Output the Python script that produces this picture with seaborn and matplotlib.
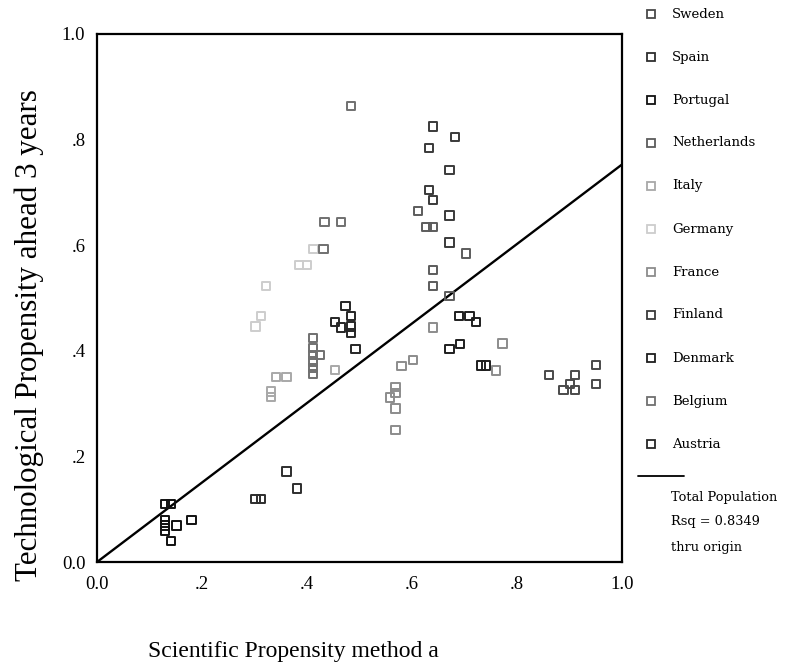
import numpy as np
import pandas as pd
import matplotlib
matplotlib.use("Agg")
import matplotlib.pyplot as plt
from matplotlib.lines import Line2D
import seaborn as sns

# Country groups: scientific propensity (x) and technological propensity 3 years ahead (y)
countries = ["Sweden", "Spain", "Portugal", "Netherlands", "Italy", "Germany",
             "France", "Finland", "Denmark", "Belgium", "Austria"]

sweden_x = [0.862, 0.911, 0.951, 0.951, 0.901, 0.889, 0.911]
sweden_y = [0.354, 0.354, 0.373, 0.337, 0.337, 0.326, 0.326]

spain_x = [0.303, 0.313, 0.362, 0.382]
spain_y = [0.120, 0.120, 0.172, 0.140]

portugal_x = [0.131, 0.142, 0.131, 0.131, 0.131, 0.152, 0.181, 0.142]
portugal_y = [0.111, 0.111, 0.080, 0.070, 0.060, 0.070, 0.080, 0.041]

netherlands_x = [0.612, 0.628, 0.641, 0.704, 0.641, 0.641, 0.672]
netherlands_y = [0.664, 0.634, 0.634, 0.584, 0.553, 0.523, 0.504]

italy_x = [0.342, 0.362, 0.332, 0.332, 0.454]
italy_y = [0.351, 0.351, 0.323, 0.313, 0.364]

germany_x = [0.303, 0.313, 0.323, 0.385, 0.401, 0.413]
germany_y = [0.446, 0.466, 0.523, 0.562, 0.562, 0.593]

france_x = [0.602, 0.581, 0.569, 0.569, 0.559, 0.569, 0.569, 0.641, 0.761, 0.773]
france_y = [0.383, 0.371, 0.332, 0.320, 0.312, 0.291, 0.250, 0.444, 0.363, 0.414]

finland_x = [0.641, 0.682, 0.633, 0.672, 0.633, 0.641, 0.672, 0.672]
finland_y = [0.824, 0.804, 0.784, 0.742, 0.704, 0.685, 0.656, 0.605]

denmark_x = [0.690, 0.710, 0.722, 0.672, 0.692, 0.732, 0.742]
denmark_y = [0.466, 0.466, 0.455, 0.404, 0.413, 0.372, 0.372]

belgium_x = [0.412, 0.412, 0.412, 0.426, 0.412, 0.412, 0.412, 0.434, 0.465, 0.432, 0.485]
belgium_y = [0.424, 0.405, 0.392, 0.392, 0.380, 0.368, 0.356, 0.644, 0.644, 0.593, 0.863]

austria_x = [0.474, 0.485, 0.454, 0.465, 0.485, 0.485, 0.493]
austria_y = [0.485, 0.466, 0.455, 0.444, 0.446, 0.434, 0.404]

xs = [sweden_x, spain_x, portugal_x, netherlands_x, italy_x, germany_x,
      france_x, finland_x, denmark_x, belgium_x, austria_x]
ys = [sweden_y, spain_y, portugal_y, netherlands_y, italy_y, germany_y,
      france_y, finland_y, denmark_y, belgium_y, austria_y]

# Fitted line through the origin (Total Population)
fit_slope = 0.752
rsq_text = "Rsq = 0.8349"

shades = {
    "Sweden": "#4a4a4a", "Spain": "#2e2e2e", "Portugal": "#111111",
    "Netherlands": "#5c5c5c", "Italy": "#a8a8a8", "Germany": "#cdcdcd",
    "France": "#8c8c8c", "Finland": "#3a3a3a", "Denmark": "#1e1e1e",
    "Belgium": "#707070", "Austria": "#262626",
}

df = pd.concat(
    [pd.DataFrame({"sci": x, "tech": y, "country": c})
     for c, x, y in zip(countries, xs, ys)],
    ignore_index=True,
)

sns.set_theme(style="white")
plt.rcParams["font.family"] = ["Liberation Serif", "DejaVu Serif"]

fig = plt.figure(figsize=(7.91, 6.64), dpi=100)
ax = fig.add_axes([0.122, 0.153, 0.664, 0.7965])

sns.scatterplot(data=df, x="sci", y="tech", hue="country", hue_order=countries,
                palette=shades, marker="s", s=36, linewidth=1.4,
                legend=False, ax=ax, zorder=3)
# open squares: move the hue colour to the outline
for coll in ax.collections:
    fc = coll.get_facecolors()
    coll.set_edgecolors(fc)
    coll.set_facecolors("none")

fit_x = np.array([0.0, 1.0])
sns.lineplot(x=fit_x, y=fit_slope * fit_x, color="black", linewidth=1.7, ax=ax, zorder=2)

ax.set_xlim(0, 1)
ax.set_ylim(0, 1)
ticks = [0.0, 0.2, 0.4, 0.6, 0.8, 1.0]
tick_labels = ["0.0", ".2", ".4", ".6", ".8", "1.0"]
ax.set_xticks(ticks)
ax.set_xticklabels(tick_labels)
ax.set_yticks(ticks)
ax.set_yticklabels(tick_labels)
ax.tick_params(axis="both", which="major", direction="inout", length=4, width=1.5,
               color="black", labelsize=13.5, labelcolor="black", pad=6)
ax.tick_params(axis="x", pad=8)
for sp in ax.spines.values():
    sp.set_visible(True)
    sp.set_color("black")
    sp.set_linewidth(1.6)

ax.set_xlabel("")
ax.set_ylabel("")
fig.text(29 / 791, 1 - 335 / 664, "Technological Propensity ahead 3 years",
         fontsize=22.3, color="black", rotation=90, ha="center", va="center")
fig.text(148 / 791, 1 - 652 / 664, "Scientific Propensity method a", fontsize=17,
         color="black", ha="left", va="center")

# Legend column on the right (wide-set serif lettering)
legend_font = ["DejaVu Serif"]
leg_top = 1 - 14 / 664
leg_step = 43 / 664
for i, c in enumerate(countries):
    yy = leg_top - i * leg_step
    fig.add_artist(Line2D([651 / 791], [yy], transform=fig.transFigure, marker="s",
                          markersize=5.5, markerfacecolor="none",
                          markeredgecolor=shades[c], markeredgewidth=1.3,
                          linestyle="none"))
    fig.text(672 / 791, yy, c, fontsize=9.5, family=legend_font, color="black",
             ha="left", va="center")

line_y = 1 - 476 / 664
fig.add_artist(Line2D([638 / 791, 684 / 791], [line_y, line_y], transform=fig.transFigure,
                      color="black", linewidth=1.3))
for txt, py in [("Total Population", 497), (rsq_text, 522), ("thru origin", 547)]:
    fig.text(671 / 791, 1 - py / 664, txt, fontsize=9.3, family=legend_font,
             color="black", ha="left", va="center")

fig.savefig("out.png", dpi=100, facecolor="white")
